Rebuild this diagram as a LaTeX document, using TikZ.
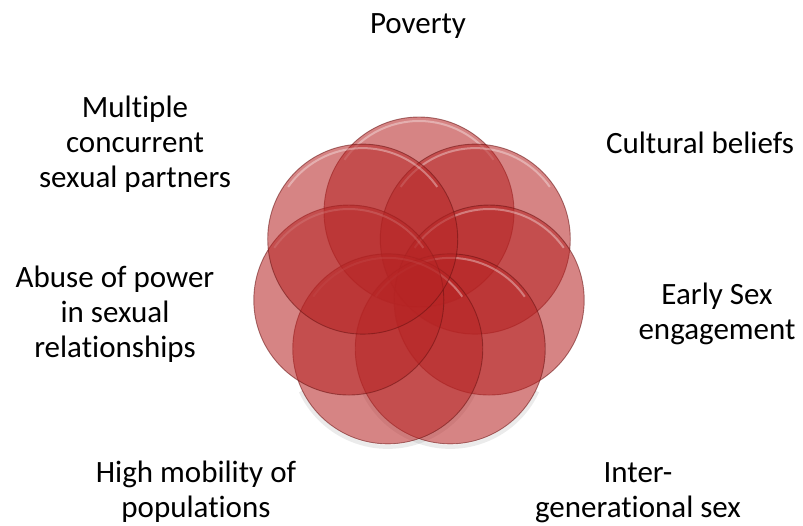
\documentclass[tikz,border=0pt]{standalone}
\usepackage{fontspec}
\setmainfont[Ligatures=NoCommon]{Carlito}
\definecolor{petalfill}{RGB}{182,36,36}
\definecolor{petalrim}{RGB}{105,18,18}
\begin{document}
\begin{tikzpicture}[x=1pt,y=-1pt,
  petal/.style={circle, inner sep=0pt, minimum size=190pt, fill=petalfill,
    fill opacity=0.56, draw=petalrim, draw opacity=0.55, line width=0.9pt},
  gloss/.style={white, draw opacity=0.35, line width=2pt},
  softshadow/.style={black, draw opacity=0.08, line width=4pt},
  lbl/.style={align=center, inner sep=0pt, anchor=base,
    font=\fontsize{31}{35}\selectfont}]
\useasboundingbox (0,0) rectangle (803,525);
% soft shadow along the lower rim of the two bottom petals
\foreach \i in {3,4}{
  \pgfmathsetmacro\ang{90-\i*360/7}
  \coordinate (s\i) at ({419+72*cos(\ang)},{284-72*sin(\ang)+2});
  \draw[softshadow] ([shift={(25:96)}]s\i) arc[start angle=25, end angle=155, radius=96];
}
% seven overlapping petals, clockwise from the top
\foreach \i/\nm in {0/pov,1/cul,2/early,3/inter,4/mob,5/abuse,6/multi}{
  \pgfmathsetmacro\ang{90-\i*360/7}
  \node[petal] (c\nm) at ({419+72*cos(\ang)},{284-72*sin(\ang)}) {};
  \draw[gloss] ([shift={(215:91)}]c\nm.center) arc[start angle=215, end angle=325, radius=91];
}
% labels (anchored at the baseline of their last line)
\node[lbl] (tpov)   at (418,33)  {Poverty};
\node[lbl] (tcul)   at (700,153) {Cultural beliefs};
\node[lbl] (tearly) at (717,339) {Early Sex\\engagement};
\node[lbl] (tinter) at (638,517) {Inter-\\generational sex};
\node[lbl] (tmob)   at (196,517) {High mobility of\\populations};
\node[lbl] (tabuse) at (115,357) {Abuse of power\\in sexual\\relationships};
\node[lbl] (tmulti) at (135,187) {Multiple\\concurrent\\sexual partners};
\end{tikzpicture}
\end{document}
